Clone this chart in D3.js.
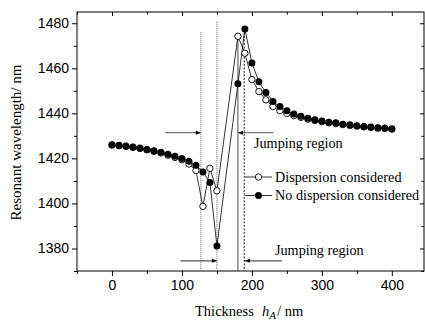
<!DOCTYPE html>
<html><head><meta charset="utf-8">
<script src="https://cdn.jsdelivr.net/npm/d3@7"></script>
<style>body{margin:0;background:#fff}svg{display:block}</style>
</head><body>
<script>
const thickness = [0,10,20,30,40,50,60,70,80,90,100,110,120,130,140,150,180,190,200,210,220,230,240,250,260,270,280,290,300,310,320,330,340,350,360,370,380,390,400];
const noDispersion = [1426.1,1425.8,1425.5,1425.1,1424.6,1424.0,1423.4,1422.7,1421.8,1420.9,1419.9,1418.7,1416.9,1414.0,1409.3,1381.1,1453.1,1477.5,1462.4,1454.0,1449.3,1445.3,1443.0,1441.2,1439.7,1438.7,1437.8,1437.2,1436.6,1436.1,1435.8,1435.2,1434.9,1434.5,1434.2,1433.9,1433.6,1433.5,1433.2];
const dispersion = [1425.9,1425.6,1425.3,1424.9,1424.4,1423.8,1423.1,1422.4,1421.4,1420.4,1419.4,1417.5,1414.6,1398.7,1415.6,1405.6,1474.2,1466.7,1455.0,1449.7,1446.0,1443.0,1441.2,1440.0,1439.0,1438.2,1437.4,1436.8,1436.3,1435.8,1435.4,1435.0,1434.6,1434.3,1434.0,1433.7,1433.4,1433.3,1433.0];
const xTicks = [0,100,200,300,400];
const yTicks = [1380,1400,1420,1440,1460,1480];
const seriesNames = ["Dispersion considered","No dispersion considered"];
// vertical guide lines: [thickness, top wavelength, style]
const guideX = [127,150,180,189];
const guideTop = [1476,1480.7,1474.2,1477.5];
const guideStyle = ["grey","grey","solid","dot"];
// arrows: [from thickness, to thickness, wavelength]
const arrowFrom = [76,231,98,243];
const arrowTo = [127,180,150,190];
const arrowY = [1431.4,1431.4,1374.5,1374.5];
const labelText = "Jumping region";
const labelX = [203,233];
const labelY = [1424.8,1377.3];

const W=425,H=320;
const L=77,R=424,T=12,B=271;
const svg=d3.select("body").append("svg").attr("width",W).attr("height",H);
const x=d3.scaleLinear().domain([-50,446]).range([L,R]);
const y=d3.scaleLinear().domain([1370,1485]).range([B,T]);

const defs=svg.append("defs");
defs.append("marker").attr("id","ah").attr("viewBox","0 0 10 10").attr("refX",10).attr("refY",5)
 .attr("markerWidth",7).attr("markerHeight",5).attr("markerUnits","userSpaceOnUse").attr("orient","auto")
 .append("path").attr("d","M0,1L10,5L0,9Z").attr("fill","#000");

// frame
svg.append("rect").attr("x",L).attr("y",T).attr("width",R-L).attr("height",B-T).attr("fill","none").attr("stroke","#000").attr("stroke-width",1);

const sans="'Liberation Sans',Arial,sans-serif", serif="'Liberation Serif','Times New Roman',serif";
const xMinor=d3.range(-50,446,50), yMinor=d3.range(1370,1486,10);
// bottom axis
const gb=svg.append("g").attr("transform",`translate(0,${B})`).call(d3.axisBottom(x).tickValues(xTicks).tickSize(5).tickPadding(4).tickFormat(d3.format("d")));
gb.select(".domain").remove();
gb.selectAll("text").attr("font-family",sans).attr("font-size",14).attr("fill","#000");
svg.append("g").attr("transform",`translate(0,${B})`).call(d3.axisBottom(x).tickValues(xMinor.filter(v=>!xTicks.includes(v))).tickSize(3).tickFormat("")).select(".domain").remove();
// top axis (inward)
svg.append("g").attr("transform",`translate(0,${T})`).call(d3.axisBottom(x).tickValues(xTicks).tickSize(4).tickFormat("")).select(".domain").remove();
svg.append("g").attr("transform",`translate(0,${T})`).call(d3.axisBottom(x).tickValues(xMinor.filter(v=>!xTicks.includes(v))).tickSize(2.5).tickFormat("")).select(".domain").remove();
// left axis
const gl=svg.append("g").attr("transform",`translate(${L},0)`).call(d3.axisLeft(y).tickValues(yTicks).tickSize(5).tickPadding(3).tickFormat(d3.format("d")));
gl.select(".domain").remove();
gl.selectAll("text").attr("font-family",sans).attr("font-size",14).attr("fill","#000");
svg.append("g").attr("transform",`translate(${L},0)`).call(d3.axisLeft(y).tickValues(yMinor.filter(v=>!yTicks.includes(v))).tickSize(3).tickFormat("")).select(".domain").remove();
// right axis (inward)
svg.append("g").attr("transform",`translate(${R},0)`).call(d3.axisLeft(y).tickValues(yTicks).tickSize(4).tickFormat("")).select(".domain").remove();
svg.append("g").attr("transform",`translate(${R},0)`).call(d3.axisLeft(y).tickValues(yMinor.filter(v=>!yTicks.includes(v))).tickSize(2.5).tickFormat("")).select(".domain").remove();
svg.selectAll(".tick line").attr("stroke","#000");

// guide lines
guideX.forEach((g,i)=>{
  const ln=svg.append("line").attr("x1",x(g)).attr("x2",x(g)).attr("y1",y(guideTop[i])).attr("y2",B);
  if(guideStyle[i]==="grey") ln.attr("stroke","#777").attr("stroke-width",1.2).attr("stroke-dasharray","1,1");
  else if(guideStyle[i]==="solid") ln.attr("stroke","#000").attr("stroke-width",0.7);
  else ln.attr("stroke","#000").attr("stroke-width",0.9).attr("stroke-dasharray","2,1.5");
});
// arrows
arrowFrom.forEach((a,i)=>{
  svg.append("line").attr("x1",x(a)).attr("x2",x(arrowTo[i])).attr("y1",y(arrowY[i])).attr("y2",y(arrowY[i]))
   .attr("stroke","#555").attr("stroke-width",1.1).attr("marker-end","url(#ah)");
});
labelX.forEach((lx,i)=>{
  svg.append("text").attr("x",x(lx)).attr("y",y(labelY[i])).attr("font-family",serif).attr("font-size",14.2).text(labelText);
});

const pts=vals=>thickness.map((t,i)=>[t,vals[i]]);
const line=d3.line().x(d=>x(d[0])).y(d=>y(d[1]));
[dispersion,noDispersion].forEach(v=>{
  svg.append("path").attr("d",line(pts(v))).attr("fill","none").attr("stroke","#000").attr("stroke-width",0.8);
});
svg.append("g").selectAll("circle").data(pts(dispersion)).join("circle")
 .attr("cx",d=>x(d[0])).attr("cy",d=>y(d[1])).attr("r",3.2).attr("fill","#fff").attr("stroke","#000").attr("stroke-width",0.9);
svg.append("g").selectAll("circle").data(pts(noDispersion)).join("circle")
 .attr("cx",d=>x(d[0])).attr("cy",d=>y(d[1])).attr("r",3.5).attr("fill","#000");

// legend
const lg=svg.append("g");
seriesNames.forEach((n,i)=>{
  const yy=177+i*18.5;
  lg.append("line").attr("x1",245).attr("x2",272).attr("y1",yy).attr("y2",yy).attr("stroke","#000").attr("stroke-width",0.8);
  const c=lg.append("circle").attr("cx",258.5).attr("cy",yy).attr("r",i===0?3.2:3.5);
  if(i===0) c.attr("fill","#fff").attr("stroke","#000").attr("stroke-width",0.9); else c.attr("fill","#000");
  lg.append("text").attr("x",275).attr("y",yy+4.5).attr("font-family",serif).attr("font-size",14.2).text(n);
});

// axis titles
svg.append("text").attr("transform",`translate(21,142.5) rotate(-90)`).attr("text-anchor","middle")
 .attr("font-family",serif).attr("font-size",15).text("Resonant wavelength/ nm");
const xt=svg.append("text").attr("y",316).attr("font-family",serif).attr("font-size",14.5);
xt.append("tspan").attr("x",195).text("Thickness");
xt.append("tspan").attr("x",262).attr("font-style","italic").text("h");
xt.append("tspan").attr("font-style","italic").attr("font-size",11).attr("dy",3).text("A");
xt.append("tspan").attr("dy",-3).attr("dx",1).text("/ nm");
</script>
</body></html>
